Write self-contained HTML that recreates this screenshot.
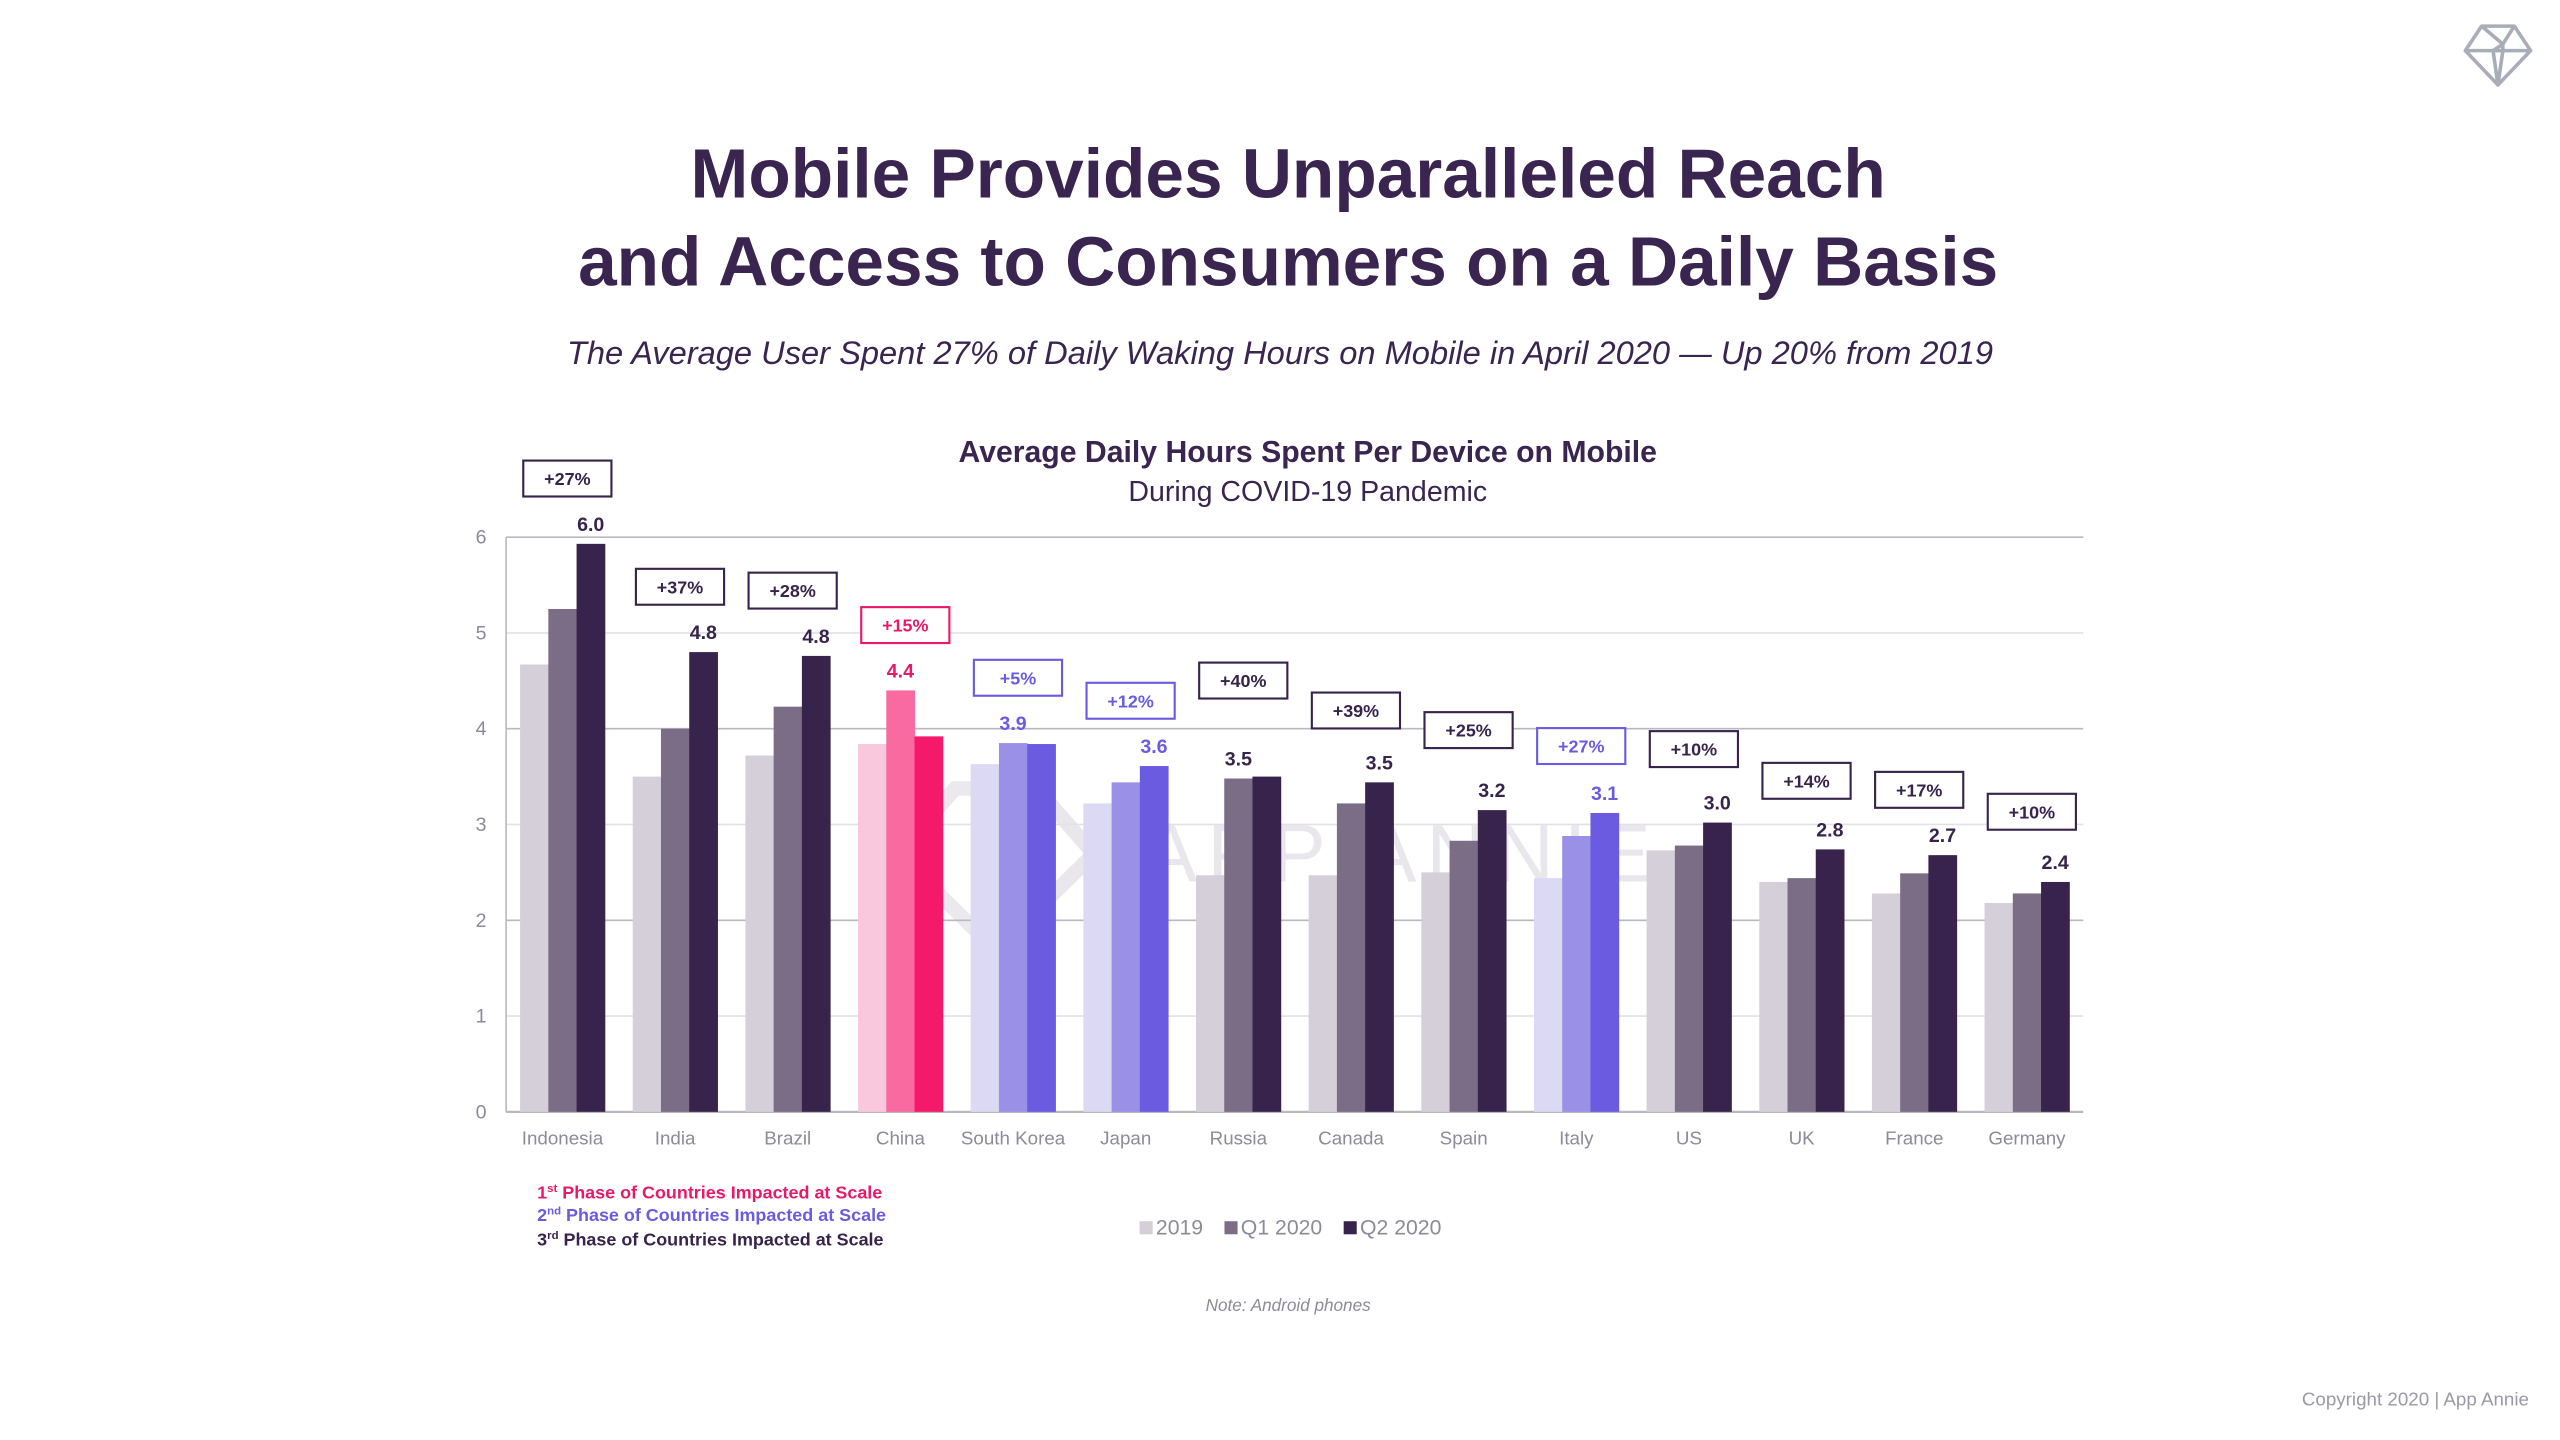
<!DOCTYPE html>
<html><head><meta charset="utf-8">
<style>
html,body{margin:0;padding:0;background:#fff;}
svg{display:block;font-family:"Liberation Sans",sans-serif;}
</style></head>
<body>
<svg id="chart" width="2560" height="1440" viewBox="0 0 1568 882" xmlns="http://www.w3.org/2000/svg">
  <g fill="none" stroke="#a9adb8" stroke-width="2.2" stroke-linejoin="round">
    <polygon points="1520,16 1540,16 1550,31 1530,52 1510,31"/>
    <polyline points="1510,31 1550,31"/>
    <polyline points="1520,16 1533,27 1540,16"/>
    <polyline points="1527,31 1530,52 1533,31"/>
    <polyline points="1527,31 1533,27 1533,31"/>
  </g>
  <text x="789" y="121" text-anchor="middle" font-size="42.5" font-weight="bold" fill="#3a2450">Mobile Provides Unparalleled Reach</text>
  <text x="789" y="175" text-anchor="middle" font-size="42.5" font-weight="bold" fill="#3a2450">and Access to Consumers on a Daily Basis</text>
  <text x="784" y="223" text-anchor="middle" font-size="20" font-style="italic" fill="#3a2450">The Average User Spent 27% of Daily Waking Hours on Mobile in April 2020 — Up 20% from 2019</text>
  <text x="801" y="283" text-anchor="middle" font-size="18.5" font-weight="bold" fill="#3a2450">Average Daily Hours Spent Per Device on Mobile</text>
  <text x="801" y="307" text-anchor="middle" font-size="17.5" fill="#3a2450">During COVID-19 Pandemic</text>
  <g id="watermark" opacity="0.1">
    <polygon points="585,483 635,483 670,523 610,582 550,523" fill="none" stroke="#37234b" stroke-width="9"/>
    <text x="700" y="540" font-size="50" fill="#37234b" letter-spacing="6">APP ANNIE</text>
  </g>
  <g id="grid"></g>
  <g id="bars"></g>
  <g id="labels"></g>
  <g font-size="11" font-weight="bold">
    <text x="329" y="734" fill="#e8196a">1<tspan font-size="7" dy="-4">st</tspan><tspan dy="4"> Phase of Countries Impacted at Scale</tspan></text>
    <text x="329" y="748" fill="#6a5be0">2<tspan font-size="7" dy="-4">nd</tspan><tspan dy="4"> Phase of Countries Impacted at Scale</tspan></text>
    <text x="329" y="763" fill="#37234b">3<tspan font-size="7" dy="-4">rd</tspan><tspan dy="4"> Phase of Countries Impacted at Scale</tspan></text>
  </g>
  <g font-size="13" fill="#8d8a99">
    <rect x="698" y="748" width="8" height="8" fill="#d4cfd9"/>
    <text x="708" y="756">2019</text>
    <rect x="750" y="748" width="8" height="8" fill="#7b6d86"/>
    <text x="760" y="756">Q1 2020</text>
    <rect x="823" y="748" width="8" height="8" fill="#37234b"/>
    <text x="833" y="756">Q2 2020</text>
  </g>
  <text x="789" y="803" text-anchor="middle" font-size="10.5" font-style="italic" fill="#8d8a99">Note: Android phones</text>
  <text x="1549" y="861" text-anchor="end" font-size="11.5" fill="#9a9aa6">Copyright 2020  |  App Annie</text>
</svg>
<script>
const categories = ["Indonesia","India","Brazil","China","South Korea","Japan","Russia","Canada","Spain","Italy","US","UK","France","Germany"];
const values2019 = [4.67,3.5,3.72,3.84,3.63,3.22,2.47,2.47,2.5,2.44,2.73,2.4,2.28,2.18];
const valuesQ1 = [5.25,4.0,4.23,4.4,3.85,3.44,3.48,3.22,2.83,2.88,2.78,2.44,2.49,2.28];
const valuesQ2 = [5.93,4.8,4.76,3.92,3.84,3.61,3.5,3.44,3.15,3.12,3.02,2.74,2.68,2.4];
const valueLabels = ["6.0","4.8","4.8","4.4","3.9","3.6","3.5","3.5","3.2","3.1","3.0","2.8","2.7","2.4"];
const growthLabels = ["+27%","+37%","+28%","+15%","+5%","+12%","+40%","+39%","+25%","+27%","+10%","+14%","+17%","+10%"];
const phases = [3,3,3,1,2,2,3,3,3,2,3,3,3,3];
const yTicks = [0,1,2,3,4,5,6];

const NS = "http://www.w3.org/2000/svg";
const X0 = 310, X1 = 1276, Y0 = 681, Y6 = 329, YMAX = 6;
const band = (X1 - X0) / categories.length;
const xCenter = i => X0 + band * (i + 0.5);
const yScale = v => Y0 - (v / YMAX) * (Y0 - Y6);
const boxLift = [0,0,0,0,0,0,20,4,9,1,5,2,0,3];
const palettes = {
  1: ["#f9c8dc","#f96aa0","#f5196c"],
  2: ["#dcd9f5","#9b90e8","#6a5be0"],
  3: ["#d4cfd9","#7b6d86","#37234b"]
};
const textColor = {1:"#e8196a",2:"#6a5be0",3:"#37234b"};
function mk(tag, attrs, parent){
  const e = document.createElementNS(NS, tag);
  for (const k in attrs) e.setAttribute(k, attrs[k]);
  parent.appendChild(e);
  return e;
}
const grid = document.getElementById("grid");
yTicks.forEach(t => {
  const y = yScale(t);
  const ln = mk("line", {x1:X0, x2:X1, y1:y, y2:y, stroke: t%2===0 ? "#b9b9c0" : "#e2e2e6", "stroke-width": t===0?1.4:1}, grid);
  
  
  const tx = mk("text", {x:298, y:y+4, "text-anchor":"end", "font-size":12, fill:"#8d8a99"}, grid);
  tx.textContent = t;
  
  
});
const axis = mk("line", {x1:X0, x2:X0, y1:Y6, y2:Y0, stroke:"#b9b9c0", "stroke-width":1}, grid);



const bars = document.getElementById("bars");
const labels = document.getElementById("labels");
const bw = 17.3;
categories.forEach((c, i) => {
  const cx = xCenter(i);
  const series = [values2019[i], valuesQ1[i], valuesQ2[i]];
  const pal = palettes[phases[i]];
  let maxV = 0, maxJ = 2;
  series.forEach((v, j) => {
    const x = cx - 1.5*bw + j*bw;
    const r = mk("rect", {x:x, y:yScale(v), width:bw+0.3, height:Y0 - yScale(v), fill:pal[j]}, bars);
    
    
    if (v > maxV + 0.02) { maxV = v; maxJ = j; }
  });
  const topY = yScale(maxV);
  const lx = cx - 1.5*bw + maxJ*bw + bw/2;
  const vl = mk("text", {x:lx, y:topY - 8, "text-anchor":"middle", "font-size":12, "font-weight":"bold", fill:textColor[phases[i]]}, labels);
  vl.textContent = valueLabels[i];
  
  
  const bx = cx + 3 - 27, by = topY - 29 - 22 - boxLift[i];
  const box = mk("rect", {x:bx, y:by, width:54, height:22, fill:"#fff", stroke:textColor[phases[i]], "stroke-width":1.3}, labels);
  
  
  const gt = mk("text", {x:bx+27, y:by+15, "text-anchor":"middle", "font-size":11, "font-weight":"bold", fill:textColor[phases[i]]}, labels);
  gt.textContent = growthLabels[i];
  
  
  const cl = mk("text", {x:cx, y:701, "text-anchor":"middle", "font-size":11.5, fill:"#8d8a99"}, labels);
  cl.textContent = c;
  
  
});
</script>
</body></html>
